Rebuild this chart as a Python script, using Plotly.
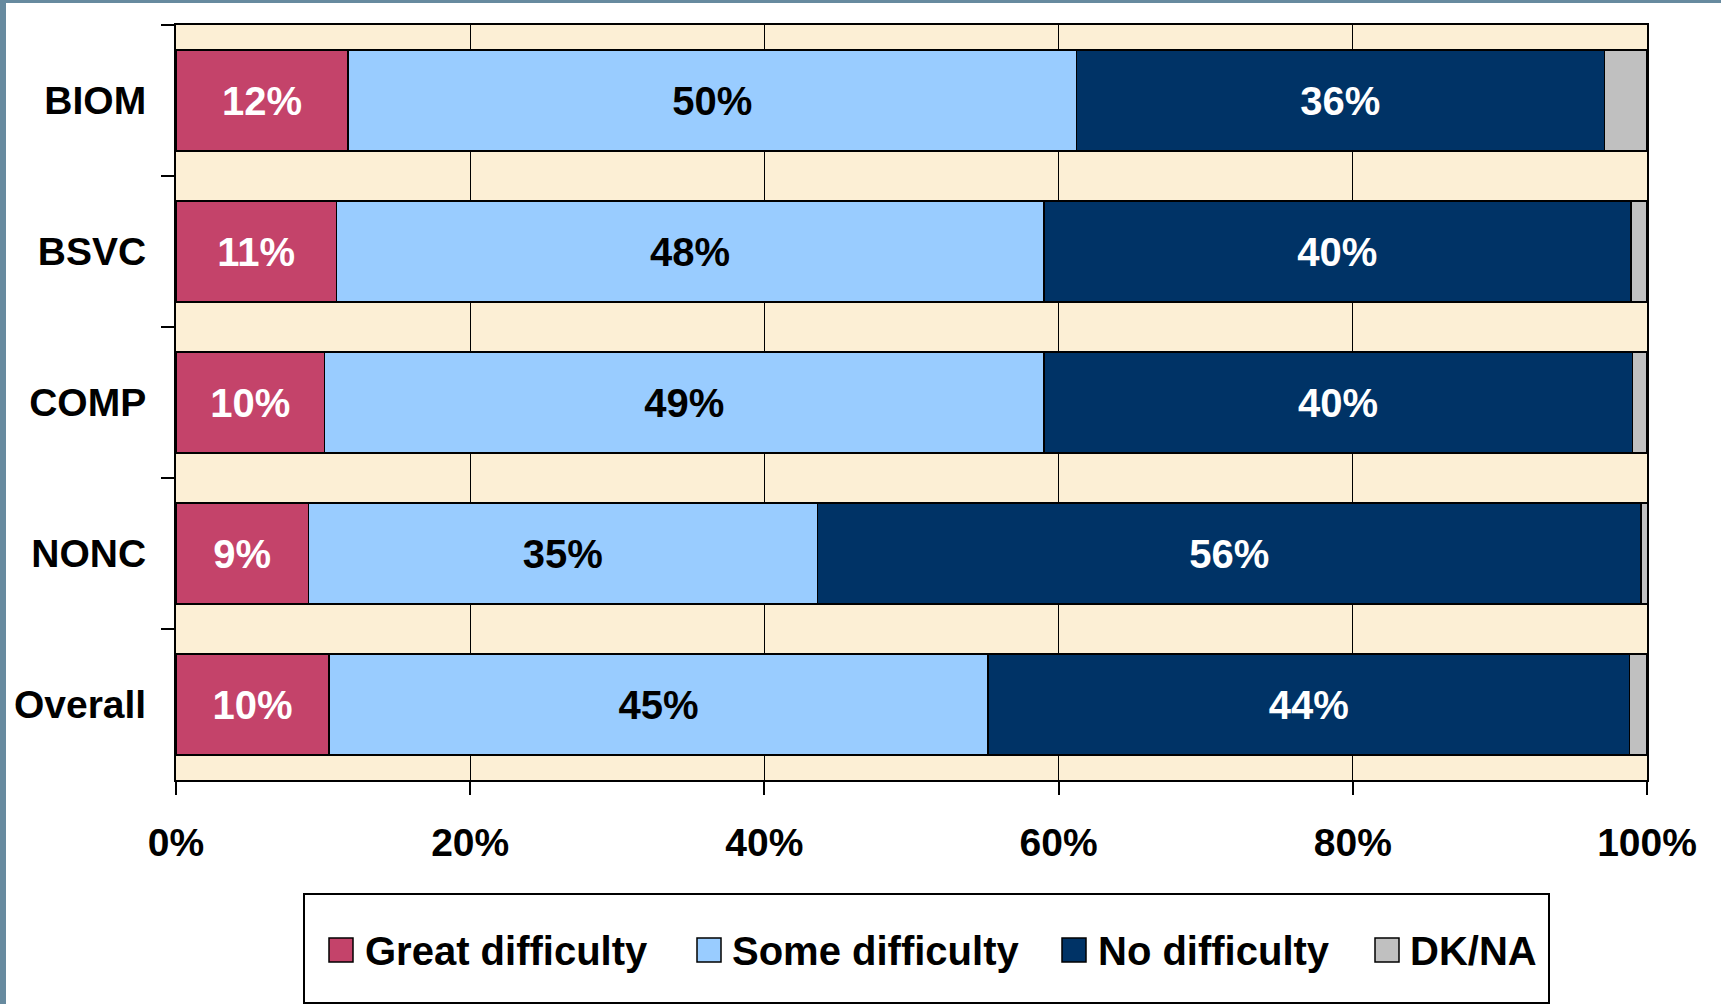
import plotly.graph_objects as go

categories = ["BIOM", "BSVC", "COMP", "NONC", "Overall"]
series_names = ["Great difficulty", "Some difficulty", "No difficulty", "DK/NA"]
great = [11.7, 10.9, 10.1, 9.0, 10.4]
some = [49.5, 48.1, 48.9, 34.6, 44.8]
none_ = [35.9, 39.9, 40.0, 56.0, 43.6]
dkna = [2.9, 1.1, 1.0, 0.5, 1.2]
x_ticks = [0, 20, 40, 60, 80, 100]
x_ticklabels = ["0%", "20%", "40%", "60%", "80%", "100%"]

colors = ["#C4436A", "#99CCFF", "#003366", "#C0C0C0"]
text_colors = ["white", "black", "white", "black"]
FONT = "Liberation Sans, Arial, sans-serif"

W, H = 1721, 1004
L, R, T, B = 176, 1647, 25, 780


def xp(px):
    return (px - L) / (R - L)


def yp(py):
    return (B - py) / (B - T)


fig = go.Figure()
for i, (name, vals) in enumerate(zip(series_names, [great, some, none_, dkna])):
    show_text = i < 3
    fig.add_trace(go.Bar(
        name=name, y=categories, x=vals, orientation="h",
        marker=dict(color=colors[i], line=dict(color="black", width=1.5)),
        text=[f"{round(v)}%" for v in vals] if show_text else None,
        textposition="inside" if show_text else "none",
        insidetextanchor="middle",
        textangle=0,
        textfont=dict(family=FONT, size=40, color=text_colors[i], weight="bold"),
        showlegend=False,
    ))

shapes = []
# page frame strips
shapes.append(dict(type="rect", xref="paper", yref="paper", x0=xp(-10), x1=xp(6), y0=yp(-10), y1=yp(H + 10),
                   fillcolor="#678A9F", line=dict(width=0), layer="above"))
shapes.append(dict(type="rect", xref="paper", yref="paper", x0=xp(-10), x1=xp(W + 10), y0=yp(3), y1=yp(-10),
                   fillcolor="#678A9F", line=dict(width=0), layer="above"))
# legend box
shapes.append(dict(type="rect", xref="paper", yref="paper", x0=xp(304), x1=xp(1549), y0=yp(1003), y1=yp(894),
                   fillcolor="white", line=dict(color="black", width=2)))

annotations = []
sq_x = [329, 697, 1062, 1375]
txt_x = [366, 733, 1099, 1411]
cy = 950
for i, name in enumerate(series_names):
    shapes.append(dict(type="rect", xref="paper", yref="paper",
                       x0=xp(sq_x[i]), x1=xp(sq_x[i] + 24), y0=yp(cy + 12), y1=yp(cy - 12),
                       fillcolor=colors[i], line=dict(color="black", width=1.5)))
    annotations.append(dict(xref="paper", yref="paper", x=xp(txt_x[i] - 3), y=yp(cy + 1),
                            xanchor="left", yanchor="middle", showarrow=False, text=name,
                            font=dict(family=FONT, size=40, color="black", weight="bold")))

fig.update_layout(
    barmode="stack",
    bargap=0.33,
    width=W, height=H,
    margin=dict(l=L, r=W - R, t=T, b=H - B, pad=0),
    paper_bgcolor="white",
    plot_bgcolor="#FCEFD5",
    showlegend=False,
    shapes=shapes,
    annotations=annotations,
    xaxis=dict(
        range=[0, 100], tickvals=x_ticks, ticktext=x_ticklabels,
        showgrid=True, gridcolor="black", gridwidth=1.2,
        showline=True, linecolor="black", linewidth=2, mirror=True,
        ticks="outside", ticklen=13, tickwidth=1.5, tickcolor="black",
        tickfont=dict(family=FONT, size=39, color="black", weight="bold"),
        ticklabelstandoff=14, zeroline=False, fixedrange=True,
    ),
    yaxis=dict(
        autorange="reversed", type="category",
        showgrid=False, showline=True, linecolor="black", linewidth=2, mirror=True,
        ticks="outside", ticklen=13, tickwidth=1.5, tickcolor="black", tickson="boundaries",
        tickfont=dict(family=FONT, size=39, color="black", weight="bold"),
        ticklabelstandoff=20, fixedrange=True,
    ),
)

fig.write_html("out.html", config={"displayModeBar": False},
               post_script="document.body.style.margin='0';document.body.style.overflow='hidden';")
